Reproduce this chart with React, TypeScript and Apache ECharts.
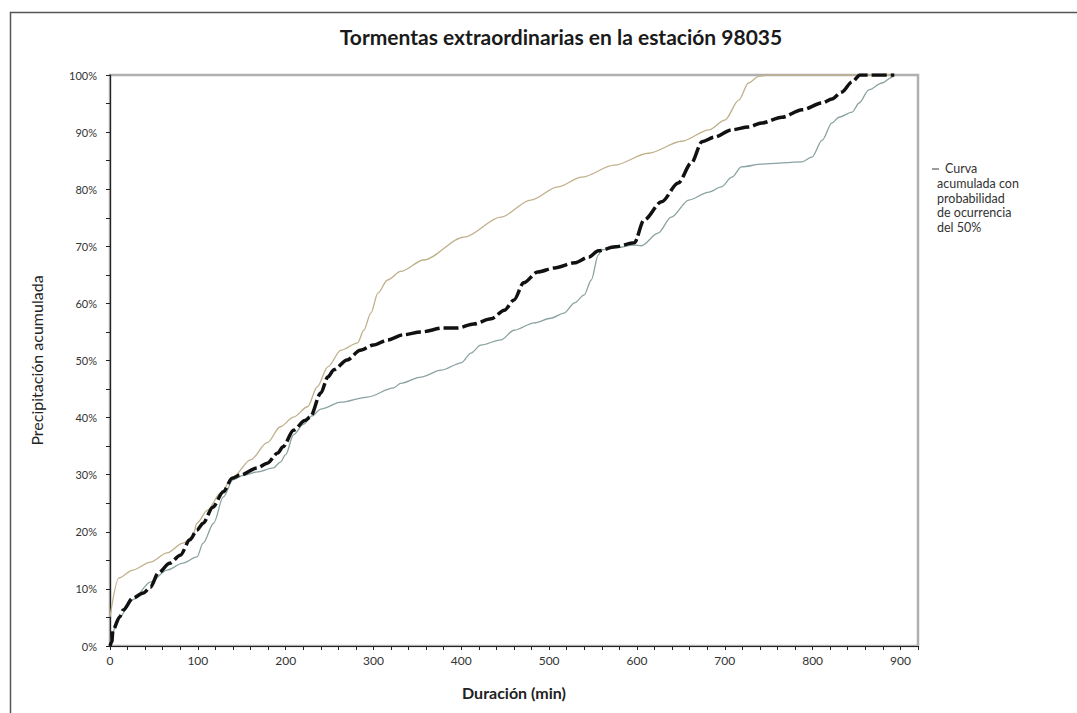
import React, { useEffect, useRef } from "react";
import * as echarts from "echarts";

const titleText = "Tormentas extraordinarias en la estación 98035";
const xAxisName = "Duración (min)";
const yAxisName = "Precipitación acumulada";
const legendFirst = "Curva";
const legendRest = ["acumulada con", "probabilidad", "de ocurrencia", "del 50%"];

// Curva 50% (black dashed)
const medianX = [0, 2, 3.4, 11, 15, 26, 38, 46, 55, 68, 80, 91, 99, 106, 117, 129, 139, 148, 168, 179, 191, 197, 209, 222, 228, 240, 248, 255, 270, 285, 300, 316, 334, 354, 380, 396, 414, 434, 449, 460, 471, 487, 506, 529, 545, 556, 575, 597, 608, 628, 647, 662, 674, 688, 708, 727, 742, 765, 788, 811, 822, 833, 845, 854, 893];
const medianY = [0, 0.7, 2.8, 5.1, 6.3, 8.4, 9.3, 10.3, 12.8, 14.5, 15.9, 18.6, 20.3, 21.5, 24.3, 27.0, 29.4, 29.9, 31.2, 32.0, 33.8, 34.9, 37.8, 39.5, 40.1, 44.3, 47.1, 48.4, 50.1, 51.8, 52.7, 53.6, 54.5, 55.0, 55.7, 55.7, 56.4, 57.3, 58.8, 60.6, 63.6, 65.5, 66.2, 67.1, 68.1, 69.2, 69.9, 70.6, 74.6, 77.8, 81.1, 84.6, 88.3, 89.1, 90.4, 90.9, 91.6, 92.6, 93.9, 95.1, 95.8, 97.0, 98.8, 100, 100];

// Upper envelope (tan)
const upperX = [0, 10, 26, 46, 65, 83, 94, 99, 111, 126, 140, 160, 179, 194, 209, 225, 236, 248, 263, 282, 289, 297, 305, 316, 331, 357, 403, 445, 479, 510, 537, 574, 613, 651, 682, 700, 716, 727, 739, 750, 893];
const upperY = [5.1, 11.9, 13.3, 14.7, 16.3, 18.0, 19.1, 21.5, 23.8, 26.8, 29.6, 32.6, 35.6, 38.4, 40.1, 41.9, 45.4, 48.9, 51.8, 53.1, 55.3, 58.3, 61.8, 64.1, 65.6, 67.6, 71.6, 75.1, 78.1, 80.4, 82.1, 84.2, 86.3, 88.4, 90.4, 92.1, 95.6, 98.6, 99.8, 100, 100];

// Lower envelope (grey-teal)
const lowerX = [0, 3, 11, 26, 46, 65, 83, 99, 106, 118, 129, 140, 152, 168, 186, 194, 200, 209, 220, 230, 240, 263, 293, 323, 331, 354, 377, 400, 411, 422, 445, 460, 483, 502, 517, 529, 540, 548, 556, 560, 574, 597, 605, 624, 639, 659, 682, 696, 708, 719, 742, 788, 799, 811, 822, 830, 845, 853, 864, 879, 890, 893];
const lowerY = [0, 2.5, 5.1, 8.1, 11.2, 13.3, 14.5, 15.6, 18.0, 21.5, 26.1, 29.1, 29.9, 30.5, 31.2, 32.2, 33.5, 37.0, 38.8, 40.3, 41.5, 42.7, 43.6, 45.2, 46.0, 47.1, 48.3, 49.6, 51.3, 52.7, 53.6, 55.3, 56.6, 57.4, 58.3, 60.1, 61.5, 64.1, 68.5, 69.4, 69.7, 70.2, 70.1, 72.3, 75.1, 78.1, 79.5, 80.4, 82.1, 83.9, 84.4, 84.8, 85.6, 88.6, 91.6, 92.6, 93.5, 95.1, 97.4, 98.6, 99.6, 100];

const zip = (xs: number[], ys: number[]) => xs.map((x, i) => [x, ys[i]]);

const FONT = "Lato, 'Open Sans', sans-serif";

export default function App() {
  const ref = useRef<HTMLDivElement>(null);
  useEffect(() => {
    if (!ref.current) return;
    const chart = echarts.init(ref.current, undefined, { renderer: "svg" });
    chart.setOption({
      animation: false,
      backgroundColor: "#ffffff",
      title: {
        text: titleText,
        left: 556,
        top: 21,
        textAlign: "center",
        textStyle: { fontFamily: FONT, fontSize: 21, fontWeight: "bold", color: "#1a1a1a" },
      },
      grid: {
        left: 110,
        top: 75,
        right: 159,
        bottom: 67,
        show: true,
        borderColor: "#b0b0b0",
        borderWidth: 2.5,
        backgroundColor: "#ffffff",
      },
      xAxis: {
        type: "value",
        min: 0,
        max: 920,
        interval: 20,
        name: xAxisName,
        nameLocation: "middle",
        nameGap: 38,
        nameTextStyle: { fontFamily: FONT, fontSize: 16, fontWeight: "bold", color: "#222" },
        axisLine: { show: true, lineStyle: { color: "#222", width: 1.2 } },
        axisTick: { show: true, length: 4, lineStyle: { color: "#222" } },
        splitLine: { show: false },
        axisLabel: {
          fontFamily: FONT,
          fontSize: 12,
          color: "#333",
          margin: 8,
          formatter: (v: number) => (v % 100 === 0 ? String(v) : ""),
        },
      },
      yAxis: {
        type: "value",
        min: 0,
        max: 100,
        interval: 5,
        name: yAxisName,
        nameLocation: "middle",
        nameGap: 66,
        nameRotate: 90,
        nameTextStyle: { fontFamily: FONT, fontSize: 16, color: "#222" },
        axisLine: { show: true, lineStyle: { color: "#222", width: 1.2 } },
        axisTick: { show: true, length: 4, lineStyle: { color: "#222" } },
        splitLine: { show: false },
        axisLabel: {
          fontFamily: FONT,
          fontSize: 11,
          color: "#333",
          margin: 13,
          formatter: (v: number) => (v % 10 === 0 ? v + "%" : ""),
        },
      },
      series: [
        {
          name: "Superior",
          type: "line",
          data: zip(upperX, upperY),
          showSymbol: false,
          smooth: 0.3,
          smoothMonotone: "x",
          lineStyle: { color: "#bfb08a", width: 1.3 },
          z: 2,
        },
        {
          name: "Inferior",
          type: "line",
          data: zip(lowerX, lowerY),
          showSymbol: false,
          smooth: 0.3,
          smoothMonotone: "x",
          lineStyle: { color: "#8aa2a2", width: 1.3 },
          z: 2,
        },
        {
          name: "Curva acumulada con probabilidad de ocurrencia del 50%",
          type: "line",
          data: zip(medianX, medianY),
          showSymbol: false,
          smooth: 0.3,
          smoothMonotone: "x",
          lineStyle: { color: "#111111", width: 3.5, type: [15, 4] },
          z: 3,
        },
      ],
      graphic: [
        {
          type: "rect",
          left: 8,
          top: 10,
          shape: { x: 0, y: 0, width: 1200, height: 800 },
          style: { fill: "none", stroke: "#555", lineWidth: 1.5 },
          silent: true,
          z: 100,
        },
        {
          type: "line",
          shape: { x1: 932, y1: 169, x2: 939, y2: 169 },
          style: { stroke: "#666", lineWidth: 1.3 },
          silent: true,
        },
        {
          type: "text",
          x: 945,
          y: 162,
          style: { text: legendFirst, font: "12.5px " + FONT, fill: "#333" },
          silent: true,
        },
        {
          type: "text",
          x: 937,
          y: 176.5,
          style: {
            text: legendRest.join("\n"),
            font: "12.5px " + FONT,
            fill: "#333",
            lineHeight: 14.5,
          },
          silent: true,
        },
      ],
    });
    return () => chart.dispose();
  }, []);
  return (
    <div
      ref={ref}
      style={{ position: "fixed", left: 0, top: 0, width: 1077, height: 713, background: "#fff" }}
    />
  );
}
